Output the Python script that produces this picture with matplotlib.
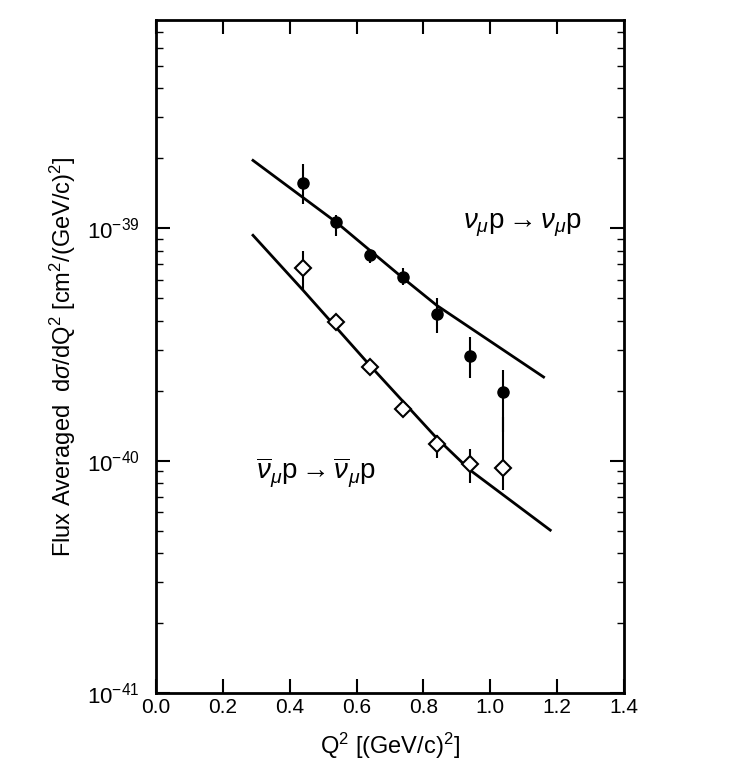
import matplotlib
matplotlib.use("Agg")
import matplotlib.pyplot as plt
import numpy as np

# data
q2 = [0.44, 0.54, 0.64, 0.74, 0.84, 0.94, 1.04]

nu_val = [1.56e-39, 1.06e-39, 7.66e-40, 6.2e-40, 4.27e-40, 2.81e-40, 1.97e-40]
nu_hi = [1.90e-39, 1.14e-39, 8.0e-40, 6.73e-40, 5.0e-40, 3.40e-40, 2.45e-40]
nu_lo = [1.27e-39, 9.3e-40, 7.1e-40, 5.69e-40, 3.53e-40, 2.26e-40, 1.33e-40]

nubar_val = [6.73e-40, 3.94e-40, 2.52e-40, 1.67e-40, 1.18e-40, 9.7e-41, 9.3e-41]
nubar_hi = [8.0e-40, 4.10e-40, 2.65e-40, 1.77e-40, 1.29e-40, 1.12e-40, 1.54e-40]
nubar_lo = [5.41e-40, 3.72e-40, 2.40e-40, 1.58e-40, 1.03e-40, 8.0e-41, 7.5e-41]

fit_nu_x = [0.29, 0.54, 0.74, 0.84, 1.16]
fit_nu_y = [1.96e-39, 1.06e-39, 6.09e-40, 4.66e-40, 2.29e-40]
fit_nubar_x = [0.29, 0.44, 0.64, 0.84, 0.94, 1.18]
fit_nubar_y = [9.33e-40, 5.41e-40, 2.57e-40, 1.25e-40, 9.1e-41, 5.02e-41]

yticks = [1e-41, 1e-40, 1e-39]
ytick_labels = [r'$10^{-41}$', r'$10^{-40}$', r'$10^{-39}$']
xticks = [0.0, 0.2, 0.4, 0.6, 0.8, 1.0, 1.2, 1.4]

plt.rcParams['font.family'] = 'Liberation Sans'
plt.rcParams['mathtext.fontset'] = 'custom'
plt.rcParams['mathtext.rm'] = 'Liberation Sans'
plt.rcParams['mathtext.it'] = 'Liberation Sans:italic'

fig = plt.figure(figsize=(7.47, 7.83), dpi=100)
ax = fig.add_axes([0.209, 0.115, 0.626, 0.859])

ax.plot(fit_nu_x, fit_nu_y, 'k-', lw=2)
ax.plot(fit_nubar_x, fit_nubar_y, 'k-', lw=2)

def errs(v, lo, hi):
    v = np.array(v); return [v - np.array(lo), np.array(hi) - v]

ax.errorbar(q2, nu_val, yerr=errs(nu_val, nu_lo, nu_hi), fmt='o', color='k',
            ms=8, elinewidth=1.5, capsize=0)
ax.errorbar(q2, nubar_val, yerr=errs(nubar_val, nubar_lo, nubar_hi), fmt='D',
            mfc='white', mec='k', ecolor='k', ms=8, mew=1.5, elinewidth=1.5, capsize=0, zorder=3)

ax.text(0.92, 1.0e-39, r'$\nu_\mu$p$\rightarrow\nu_\mu$p', fontsize=20)
ax.text(0.30, 8.3e-41, r'$\overline{\nu}_\mu$p$\rightarrow\overline{\nu}_\mu$p', fontsize=20)

ax.set_yscale('log')
ax.set_xlim(0, 1.4)
ax.set_ylim(1e-41, 10 ** -38.105)
ax.set_xticks(xticks)
ax.set_xticklabels(['%.1f' % t for t in xticks], fontsize=15)
ax.set_yticks(yticks)
ax.set_yticklabels(ytick_labels, fontsize=16)
ax.tick_params(which='both', direction='in', top=True, right=True)
ax.tick_params(which='major', length=10, width=1.5)
ax.tick_params(axis='y', which='major', pad=12)
ax.tick_params(which='minor', length=5, width=1)
for s in ax.spines.values():
    s.set_linewidth(2)

ax.set_xlabel(r'Q$^2$ [(GeV/c)$^2$]', fontsize=17, labelpad=10)
ax.set_ylabel(r'Flux Averaged  d$\sigma$/dQ$^2$ [cm$^2$/(GeV/c)$^2$]', fontsize=17, labelpad=6)

fig.savefig('out.png', dpi=100)
